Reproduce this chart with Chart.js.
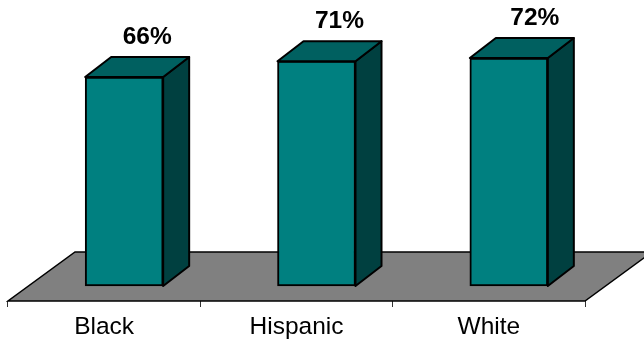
<!DOCTYPE html>
<html>
<head>
<meta charset="utf-8">
<title>Bars</title>
<script src="https://cdn.jsdelivr.net/npm/chart.js@4"></script>
<style>
    html, body { margin: 0; padding: 0; background: #fff; }
    canvas { display: block; }
</style>
</head>
<body>
<canvas id="myChart" width="644" height="345"></canvas>
<script>
const categories = ["Black", "Hispanic", "White"];
const percents = [66, 71, 72];

const frontColor = "#008080";
const topColor = "#006060";
const sideColor = "#004040";
const floorColor = "#808080";

// bars sit part way back on the floor
const floorDepth = { x: 67, y: 49 };
const barDepth = { x: 26, y: 20 };
const barShift = 20;

const fakeDepth = {
    id: "fakeDepth",
    beforeDatasetsDraw(chart) {
        const { ctx, chartArea } = chart;
        const { left, right, bottom } = chartArea;
        ctx.save();
        ctx.beginPath();
        ctx.moveTo(left, bottom);
        ctx.lineTo(right, bottom);
        ctx.lineTo(right + floorDepth.x, bottom - floorDepth.y);
        ctx.lineTo(left + floorDepth.x, bottom - floorDepth.y);
        ctx.closePath();
        ctx.fillStyle = floorColor;
        ctx.fill();
        ctx.lineWidth = 1.5;
        ctx.strokeStyle = "#000";
        ctx.stroke();
        ctx.restore();
        ctx.save();
        ctx.translate(barShift, 0);
    },
    afterDatasetsDraw(chart, args, opts) {
        const { ctx } = chart;
        chart.getDatasetMeta(0).data.forEach((bar, i) => {
            const { x, y, base, width } = bar.getProps(["x", "y", "base", "width"], true);
            const l = x - width / 2;
            const r = x + width / 2;
            const dx = barDepth.x;
            const dy = barDepth.y;

            ctx.lineWidth = 2;
            ctx.strokeStyle = "#000";
            ctx.lineJoin = "round";

            ctx.beginPath();
            ctx.moveTo(r, y);
            ctx.lineTo(r + dx, y - dy);
            ctx.lineTo(r + dx, base - dy);
            ctx.lineTo(r, base);
            ctx.closePath();
            ctx.fillStyle = sideColor;
            ctx.fill();
            ctx.stroke();

            ctx.beginPath();
            ctx.moveTo(l, y);
            ctx.lineTo(l + dx, y - dy);
            ctx.lineTo(r + dx, y - dy);
            ctx.lineTo(r, y);
            ctx.closePath();
            ctx.fillStyle = topColor;
            ctx.fill();
            ctx.stroke();

            ctx.fillStyle = "#000";
            ctx.font = "bold 24.5px 'Liberation Sans'";
            ctx.textAlign = "center";
            ctx.textBaseline = "middle";
            ctx.fillText(percents[i] + "%", x + opts.labelShift[i], y - 40);
        });
        ctx.restore();
    }
};

new Chart(document.getElementById("myChart"), {
    type: "bar",
    data: {
        labels: categories,
        datasets: [
            {
                label: "Percent",
                data: percents,
                backgroundColor: frontColor,
                borderColor: "#000",
                borderWidth: 2,
                borderSkipped: false,
                barThickness: 78
            }
        ]
    },
    options: {
        responsive: false,
        animation: false,
        layout: { padding: { left: 8, right: 59, top: 1, bottom: 0 } },
        plugins: {
            legend: { display: false },
            tooltip: { enabled: false },
            fakeDepth: { labelShift: [23, 23, 26] }
        },
        scales: {
            x: {
                afterFit(scale) {
                    scale.height = 44;
                },
                border: { display: false },
                grid: { drawOnChartArea: false, tickLength: 6, color: "#333" },
                ticks: {
                    color: "#000",
                    padding: 6,
                    font: { family: "'Liberation Sans'", size: 24.5 }
                }
            },
            y: {
                display: false,
                min: -4.73,
                max: 90
            }
        }
    },
    plugins: [fakeDepth]
});
</script>
</body>
</html>
